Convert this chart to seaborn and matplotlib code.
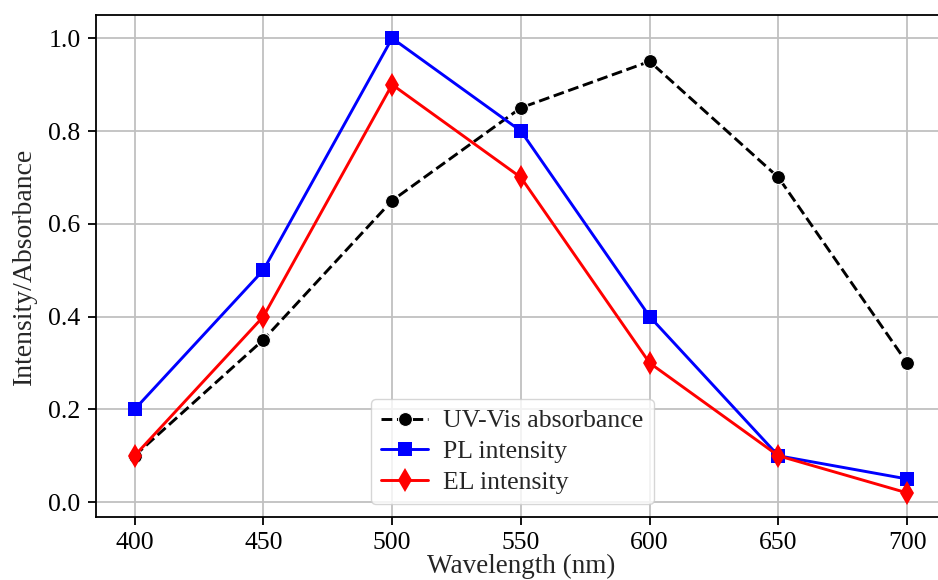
import matplotlib
matplotlib.use("Agg")
import matplotlib.pyplot as plt
import seaborn as sns

wavelength = [400, 450, 500, 550, 600, 650, 700]
uv_vis = [0.1, 0.35, 0.65, 0.85, 0.95, 0.7, 0.3]
pl = [0.2, 0.5, 1.0, 0.8, 0.4, 0.1, 0.05]
el = [0.1, 0.4, 0.9, 0.7, 0.3, 0.1, 0.02]

sns.set_style("ticks")
plt.rcParams['font.family'] = ['Liberation Serif', 'DejaVu Serif']

fig = plt.figure(figsize=(9.38, 5.8), dpi=100)
ax = fig.add_axes([0.1023, 0.1086, 0.906, 0.8655])

sns.lineplot(x=wavelength, y=uv_vis, ax=ax, color='black', linestyle='--',
             marker='o', markersize=10, linewidth=2.1, label='UV-Vis absorbance')
sns.lineplot(x=wavelength, y=pl, ax=ax, color='blue', marker='s',
             markersize=9.5, linewidth=2.1, markeredgewidth=0, label='PL intensity')
sns.lineplot(x=wavelength, y=el, ax=ax, color='red', marker='d',
             markersize=12.5, linewidth=2.1, markeredgewidth=0, label='EL intensity')

ax.set_xlim(385, 715)
ax.set_ylim(-0.032, 1.05)
ax.set_xticks(wavelength)
ax.set_yticks([0.0, 0.2, 0.4, 0.6, 0.8, 1.0])
ax.grid(True, color='#c0c0c0', linewidth=1.3)
ax.tick_params(labelsize=18.5, length=6, width=1.3, colors='black', pad=5)
for s in ax.spines.values():
    s.set_color('black')
    s.set_linewidth(1.3)
ax.set_xlabel('Wavelength (nm)', fontsize=19.5, labelpad=0)
ax.set_ylabel('Intensity/Absorbance', fontsize=20, labelpad=8)
ax.legend(loc='lower center', bbox_to_anchor=(0.49, 0.0), fontsize=18.5,
          handlelength=1.8, handletextpad=0.6, labelspacing=0.3)

fig.savefig('out.png', dpi=100)
